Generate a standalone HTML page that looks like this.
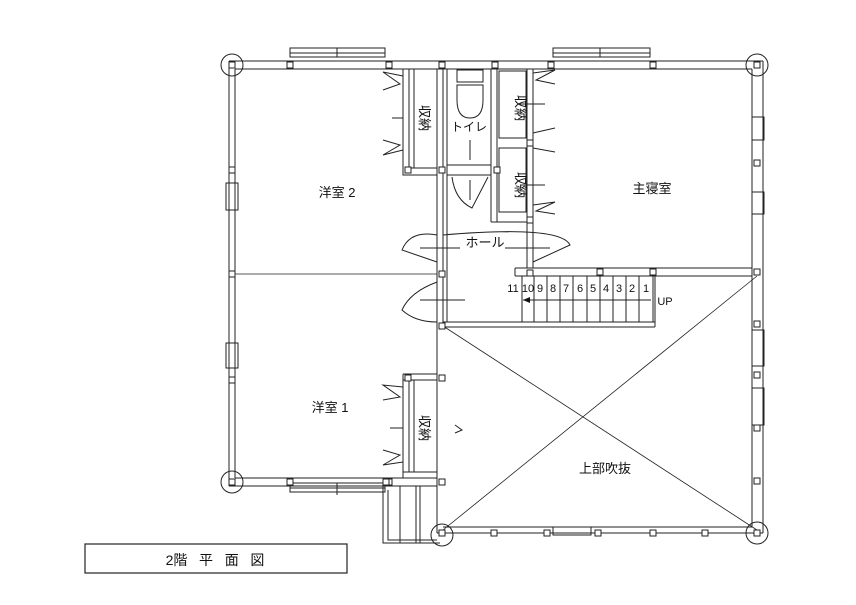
<!DOCTYPE html>
<html><head><meta charset="utf-8"><style>
html,body{margin:0;padding:0;background:#fff;}
svg{display:block;}
text{font-family:"Liberation Sans","Noto Sans CJK JP",sans-serif;fill:#111;}
</style></head><body>
<svg width="856" height="605" viewBox="0 0 856 605" xmlns="http://www.w3.org/2000/svg">
<g fill="none" stroke="#222" stroke-width="1">
<path d="M229 61 H763 M235 69 H752"/>
<path d="M229 61 V486 M235 69 V478"/>
<path d="M763 61 V533 M752 69 V527"/>
<path d="M229 486 H437 M235 478 H437"/>
<path d="M437 533 H763 M443 527 H752"/>
<path d="M437 69 V533 M443 69 V327"/>
<path d="M235 274 H437" stroke-width="0.8"/>
<path d="M515 268 H752 M515 276 H752 M515 268 V276"/>
<path d="M443 322 H655 M443 327 H655 M655 276 V327"/>
<path d="M522 276 V322 M534 276 V322 M547 276 V322 M560 276 V322 M573 276 V322 M587 276 V322 M600 276 V322 M613 276 V322 M626 276 V322 M639 276 V322 M653 276 V322"/>
<path d="M523 300 H651"/>
<path d="M447 69 V322 M491 69 V222 M497 69 V222 M491 222 H533 M447 165 H491 M447 175 H491"/>
<path d="M527 69 V268 M533 69 V268"/>
<rect x="499" y="71" width="27" height="67"/>
<rect x="499" y="148" width="27" height="64"/>
<rect x="457" y="70" width="26" height="12"/>
<path d="M457 85 H483 V100 Q483 118 470 118 Q457 118 457 100 Z"/>
<path d="M470 140 V160 M470 180 V200"/>
<path d="M452 177 Q455 200 472 208 L488 177"/>
<path d="M403 69 V175 H437 M409 69 V168 H437 M414 69 V168"/>
<path d="M403 76 L383 72 L400 84 L383 90 M403 150 L383 155 L400 145 L383 140"/>
<path d="M392 118 H403"/>
<path d="M403 374 H437 M403 374 V478 M409 380 V472 M414 380 V472 M403 380 H437 M403 472 H437"/>
<path d="M403 387 L383 385 L400 397 L383 400 M403 462 L383 465 L400 455 L383 450"/>
<path d="M390 428 H403"/>
<path d="M383 486 V543 H440 M388 490 V540 H437 M400 486 V543 M416 486 V543 M420 486 V543"/>
<path d="M533 73 L555 70 L536 80 L555 84 M533 133 L555 128 M533 148 L555 152 M533 205 L555 202 L536 211 L555 214 M520 104 H545 M520 185 H545"/>
<path d="M437 235 Q410 230 402 250 L437 262 M443 235 Q560 225 570 245 L533 262"/>
<path d="M420 248 H460 M505 248 H550"/>
<path d="M437 282 Q410 292 402 310 Q415 322 437 322 M420 300 H465"/>
<path d="M443 326 L757 530 M443 530 L757 276" stroke-width="0.8"/>
<path d="M455 425 L462 430 L455 433"/>
<rect x="290" y="48" width="95" height="9"/><path d="M290 53 H385 M337 48 V57"/>
<rect x="553" y="48" width="97" height="9"/><path d="M553 53 H650 M600 48 V57"/>
<rect x="290" y="483" width="95" height="9"/><path d="M290 488 H385 M337 483 V495"/>
<rect x="553" y="527" width="38" height="8"/>
<rect x="226" y="183" width="12" height="27"/>
<rect x="226" y="343" width="12" height="25"/>
<rect x="752" y="117" width="12" height="23"/>
<rect x="752" y="192" width="12" height="22"/>
<rect x="752" y="330" width="12" height="36"/>
<rect x="752" y="388" width="12" height="37"/>
<circle cx="232" cy="65" r="11"/><circle cx="757" cy="65" r="11"/>
<circle cx="232" cy="482" r="11"/><circle cx="442" cy="535" r="11"/><circle cx="757" cy="533" r="11"/>
<rect x="85" y="544" width="262" height="29" stroke-width="1.2"/>
</g>
<g fill="#fff" stroke="#222" stroke-width="1">
<rect x="229" y="62" width="6" height="6"/><rect x="287" y="62" width="6" height="6"/><rect x="386" y="62" width="6" height="6"/>
<rect x="439" y="62" width="6" height="6"/><rect x="492" y="62" width="6" height="6"/><rect x="548" y="62" width="6" height="6"/>
<rect x="650" y="62" width="6" height="6"/><rect x="754" y="62" width="6" height="6"/>
<rect x="229" y="167" width="6" height="6"/><rect x="229" y="271" width="6" height="6"/>
<rect x="229" y="377" width="6" height="6"/><rect x="229" y="479" width="6" height="6"/>
<rect x="287" y="479" width="6" height="6"/><rect x="386" y="479" width="6" height="6"/><rect x="439" y="479" width="6" height="6"/>
<rect x="439" y="167" width="6" height="6"/><rect x="405" y="167" width="6" height="6"/><rect x="494" y="167" width="6" height="6"/>
<rect x="527" y="140" width="6" height="6"/><rect x="527" y="217" width="6" height="6"/><rect x="527" y="270" width="6" height="6"/>
<rect x="439" y="271" width="6" height="6"/><rect x="439" y="323" width="6" height="6"/><rect x="439" y="375" width="6" height="6"/>
<rect x="405" y="375" width="6" height="6"/><rect x="383" y="479" width="6" height="6"/>
<rect x="597" y="269" width="6" height="6"/><rect x="650" y="269" width="6" height="6"/><rect x="754" y="269" width="6" height="6"/>
<rect x="754" y="160" width="6" height="6"/><rect x="754" y="321" width="6" height="6"/><rect x="754" y="372" width="6" height="6"/>
<rect x="754" y="425" width="6" height="6"/><rect x="754" y="478" width="6" height="6"/><rect x="754" y="530" width="6" height="6"/>
<rect x="439" y="530" width="6" height="6"/><rect x="491" y="530" width="6" height="6"/><rect x="544" y="530" width="6" height="6"/>
<rect x="595" y="530" width="6" height="6"/><rect x="650" y="530" width="6" height="6"/><rect x="702" y="530" width="6" height="6"/>
</g>
<path d="M523 300 L530 297 L530 303 Z" fill="#111"/>
<g font-size="13">
<text x="337" y="197" text-anchor="middle">洋室 2</text>
<text x="652" y="193" text-anchor="middle">主寝室</text>
<text x="485" y="247" text-anchor="middle">ホール</text>
<text x="330" y="412" text-anchor="middle">洋室 1</text>
<text x="605" y="473" text-anchor="middle">上部吹抜</text>
<text x="469" y="131" text-anchor="middle" font-size="12">トイレ</text>
<text transform="translate(420,118) rotate(90)" text-anchor="middle" font-size="13">収納</text>
<text transform="translate(516,108) rotate(90)" text-anchor="middle" font-size="13">収納</text>
<text transform="translate(516,185) rotate(90)" text-anchor="middle" font-size="13">収納</text>
<text transform="translate(420,428) rotate(90)" text-anchor="middle" font-size="13">収納</text>
</g>
<g font-size="11" text-anchor="middle">
<text x="513" y="292">11</text><text x="528" y="292">10</text><text x="540" y="292">9</text><text x="553" y="292">8</text><text x="566" y="292">7</text><text x="580" y="292">6</text><text x="593" y="292">5</text><text x="606" y="292">4</text><text x="619" y="292">3</text><text x="632" y="292">2</text><text x="646" y="292">1</text>
<text x="665" y="305">UP</text>
</g>
<text x="215" y="565" text-anchor="middle" font-size="14" xml:space="preserve">2階   平   面   図</text>
</svg>
</body></html>
